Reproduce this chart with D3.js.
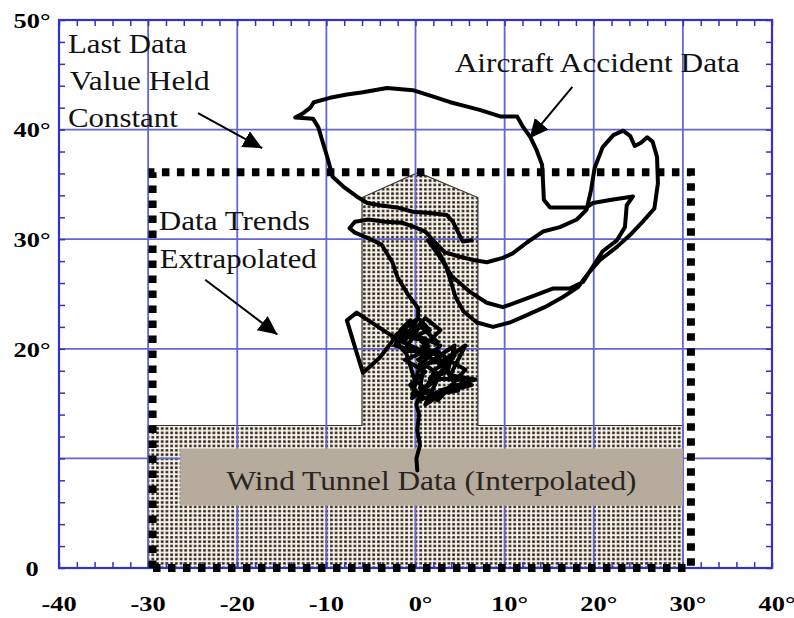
<!DOCTYPE html>
<html>
<head>
<meta charset="utf-8">
<script src="https://cdn.jsdelivr.net/npm/d3@7"></script>
<style>
  body { margin: 0; background: #fff; }
  svg { display: block; }
</style>
</head>
<body>
<script>
// tick values and labels
const xTicks = [-40, -30, -20, -10, 0, 10, 20, 30, 40];
const xTickLabels = ["-40", "-30", "-20", "-10", "0°", "10°", "20°", "30°", "40°"];
const yTicks = [0, 10, 20, 30, 40, 50];
const yTickLabels = ["0", "", "20°", "30°", "40°", "50°"];
const xMinor = d3.range(-40, 41, 2);
const yMinor = d3.range(0, 51, 2);

// wind tunnel coverage (T shape), x = sideslip, y = angle of attack
const tunnelRegion = [[-30, 0], [30, 0], [30, 13], [7, 13], [7, 33.8], [0.3, 36.1],
  [-6, 33.8], [-6, 13], [-30, 13]];
// extrapolation limit (dotted box)
const extrapBoundary = [[-29.5, 0], [-29.5, 36.1], [30.9, 36.1], [30.9, 0]];
// label box corners
const tunnelLabelBox = [[-26.4, 10.9], [30, 5.7]];

// aircraft accident flight path
const accidentTrack = [
  [0.2, 8.9], [0.1, 10.0], [0.5, 11.2], [0.2, 12.6], [0.4, 14.0], [0.1, 14.9], [0.5, 15.8],
  [-0.6, 16.7], [1.1, 17.9], [-1.2, 19.0], [1.6, 19.9], [-0.1, 21.3], [2.8, 20.3], [0.5, 18.5],
  [3.3, 19.0], [5.6, 20.3], [3.9, 17.6], [6.7, 17.2], [2.8, 16.2], [0.5, 15.3], [2.2, 18.1],
  [4.4, 19.4], [1.6, 16.7], [-0.4, 15.5], [1.1, 20.8], [-1.7, 21.7], [-0.6, 22.6], [-2.3, 20.3],
  [0.3, 19.7], [2.8, 21.7], [1.1, 22.8], [-1.2, 20.8], [-2.6, 21.0],
  [0.3, 22.8], [1.6, 21.7], [-0.6, 21.0], [2.5, 20.6], [0.5, 22.1], [-1.2, 19.9], [3.0, 19.4],
  [1.1, 18.5], [4.4, 20.3], [3.6, 17.9], [1.6, 17.3], [5.0, 17.2], [6.3, 16.7], [3.3, 16.1],
  [1.1, 14.9], [2.7, 17.6], [0.3, 19.0], [2.2, 19.9], [4.1, 18.8], [5.6, 18.1], [2.5, 15.3],
  [0.5, 16.4], [1.4, 20.3], [-0.4, 21.5], [-2.0, 20.8], [0.5, 19.9], [3.4, 18.2], [4.8, 16.2],
  [1.9, 15.8], [-0.1, 17.2], [-1.0, 19.5], [-2.4, 20.9],
  [-4.0, 19.2], [-5.9, 17.8], [-6.7, 19.9], [-7.7, 22.6], [-6.6, 23.3], [-2.3, 21.0],
  [-0.6, 21.7], [0.3, 22.8],
  [0.3, 23.7], [-0.8, 24.9], [-2.0, 26.5], [-2.6, 27.9], [-3.8, 29.5], [-5.3, 30.1],
  [-6.8, 30.6], [-7.4, 31.0], [-6.8, 31.6], [-5.3, 31.8], [-3.4, 31.6], [-1.5, 31.5],
  [-0.1, 31.1], [1.1, 30.7], [2.2, 29.7], [3.3, 28.8], [5.0, 28.4], [6.5, 28.1], [8.0, 27.9],
  [9.8, 28.3], [10.9, 28.7], [12.5, 29.7], [14.3, 30.7], [16.2, 31.1], [18.1, 31.8],
  [19.2, 32.7], [19.7, 34.5], [20.1, 36.5], [21.0, 38.4], [22.2, 39.5], [23.3, 39.9],
  [24.1, 39.4], [24.6, 38.5], [25.3, 38.8], [26.0, 39.3], [26.6, 38.9], [27.1, 37.5],
  [27.2, 35.1], [26.8, 32.8], [25.5, 31.6], [24.1, 30.4], [22.6, 29.3], [20.7, 28.1],
  [19.5, 27.0], [18.2, 25.6], [16.5, 24.7], [14.5, 23.8], [12.3, 23.0], [10.6, 22.4],
  [8.7, 22.0], [6.9, 22.4], [5.4, 23.4], [4.5, 24.7], [3.9, 26.3], [3.4, 27.6], [2.5, 29.0],
  [1.4, 29.9], [2.8, 28.3], [4.1, 26.6], [6.1, 25.2], [8.0, 24.2], [9.8, 23.8], [12.5, 24.6],
  [15.4, 25.5], [17.3, 25.5], [18.8, 26.1], [19.9, 27.5], [21.0, 28.9], [22.6, 29.9],
  [23.5, 31.1], [23.7, 33.1], [24.4, 33.9], [22.0, 33.6], [19.9, 33.3], [19.2, 32.9],
  [15.1, 32.9], [14.4, 33.6], [14.3, 35.4], [14.2, 36.8], [13.6, 38.1], [12.9, 39.3],
  [12.1, 40.2], [11.4, 41.2], [9.5, 41.2], [7.2, 41.8], [5.8, 42.1], [3.9, 42.5], [2.0, 43.0],
  [-0.3, 43.6], [-3.2, 43.8], [-5.9, 43.4], [-7.7, 43.2], [-9.6, 42.9], [-11.4, 42.5],
  [-11.8, 42.0], [-12.6, 41.5], [-13.5, 41.1], [-11.5, 41.0], [-10.9, 40.2], [-10.5, 39.1],
  [-9.9, 37.5], [-9.3, 35.7], [-8.1, 34.8], [-6.6, 33.9], [-5.4, 33.3], [-4.0, 33.1],
  [-2.1, 32.9], [-0.3, 32.5], [1.6, 32.4], [3.5, 32.2], [4.2, 31.6], [4.8, 30.6], [5.3, 29.8],
  [6.3, 29.9]
];

// annotation text, anchored at the start of the baseline
const noteText = ["Last Data", "Value Held", "Constant", "Data Trends", "Extrapolated",
  "Aircraft Accident Data", "Wind Tunnel Data (Interpolated)"];
const noteAt = [[-39, 47.0], [-38.8, 43.6], [-39, 40.2], [-28.8, 30.8], [-28.7, 27.4],
  [4.4, 45.3], [-21.2, 7.1]];
// arrows: [from, to]
const arrows = [
  [[-24.4, 41.5], [-17.2, 38.3]],
  [[-23.6, 26.3], [-15.5, 21.3]],
  [[17.6, 43.9], [12.8, 39.2]]
];

const W = 794, H = 618;
const noteWidth = { "Last Data": 119, "Value Held": 140, "Constant": 110, "Data Trends": 151,
  "Extrapolated": 157, "Aircraft Accident Data": 285, "Wind Tunnel Data (Interpolated)": 410 };
const serif = "'Liberation Serif', 'Times New Roman', serif";
const frameColor = "#3232c8", gridColor = "#6464d4";

const x = d3.scaleLinear().domain([-40, 40]).range([59, 772]);
const y = d3.scaleLinear().domain([0, 50]).range([568, 20]);
const line = d3.line().x(d => x(d[0])).y(d => y(d[1]));

const svg = d3.select("body").append("svg")
    .attr("width", W)
    .attr("height", H);

const defs = svg.append("defs");
// dot screen used for the wind tunnel area
const pat = defs.append("pattern")
    .attr("id", "dots")
    .attr("width", 4.7).attr("height", 4.35)
    .attr("patternUnits", "userSpaceOnUse");
pat.append("rect").attr("width", 4.7).attr("height", 4.35).attr("fill", "#fbfaf7");
pat.append("rect").attr("x", 0.9).attr("y", 0.8).attr("width", 3.1).attr("height", 2.9)
    .attr("fill", "#a8977c");
pat.append("rect").attr("x", 1.3).attr("y", 1.2).attr("width", 2.2).attr("height", 2.1)
    .attr("fill", "#1d1710");

defs.append("marker")
    .attr("id", "head")
    .attr("viewBox", "0 -10 20 20")
    .attr("refX", 19).attr("refY", 0)
    .attr("markerWidth", 20).attr("markerHeight", 20)
    .attr("markerUnits", "userSpaceOnUse")
    .attr("orient", "auto")
  .append("path")
    .attr("d", "M0,-9L19,0L0,9Z")
    .attr("fill", "#000");

// wind tunnel region
svg.append("path")
    .attr("d", line(tunnelRegion) + "Z")
    .attr("fill", "url(#dots)")
    .attr("stroke", "#333")
    .attr("stroke-width", 1.2);

// grid
svg.append("g").selectAll("line").data(xTicks).join("line")
    .attr("x1", d => x(d)).attr("x2", d => x(d))
    .attr("y1", y(0)).attr("y2", y(50))
    .attr("stroke", gridColor).attr("stroke-width", 1.8);
svg.append("g").selectAll("line").data(yTicks).join("line")
    .attr("x1", x(-40)).attr("x2", x(40))
    .attr("y1", d => y(d)).attr("y2", d => y(d))
    .attr("stroke", gridColor).attr("stroke-width", 1.8);

// minor ticks, pointing inward on all four sides
function minor(axis, tr) {
  const g = svg.append("g").attr("transform", tr).call(axis.tickSize(-6).tickFormat(""));
  g.select(".domain").remove();
  g.selectAll("line").attr("stroke", frameColor).attr("stroke-width", 1.5);
}
minor(d3.axisBottom(x).tickValues(xMinor), `translate(0,${y(0)})`);
minor(d3.axisTop(x).tickValues(xMinor), `translate(0,${y(50)})`);
minor(d3.axisLeft(y).tickValues(yMinor), `translate(${x(-40)},0)`);
minor(d3.axisRight(y).tickValues(yMinor), `translate(${x(40)},0)`);

// frame
svg.append("rect")
    .attr("x", x(-40)).attr("y", y(50))
    .attr("width", x(40) - x(-40)).attr("height", y(0) - y(50))
    .attr("fill", "none").attr("stroke", frameColor).attr("stroke-width", 2.2);

// label box
svg.append("rect")
    .attr("x", x(tunnelLabelBox[0][0])).attr("y", y(tunnelLabelBox[0][1]))
    .attr("width", x(tunnelLabelBox[1][0]) - x(tunnelLabelBox[0][0]))
    .attr("height", y(tunnelLabelBox[1][1]) - y(tunnelLabelBox[0][1]))
    .attr("fill", "#b6ab9d");

// extrapolation boundary
svg.append("path")
    .attr("d", line(extrapBoundary) + "Z")
    .attr("fill", "none")
    .attr("stroke", "#000")
    .attr("stroke-width", 8)
    .attr("stroke-dasharray", "7.5,7.5");

// accident trajectory
svg.append("path")
    .attr("d", line(accidentTrack))
    .attr("fill", "none")
    .attr("stroke", "#000")
    .attr("stroke-width", 4)
    .attr("stroke-linejoin", "round")
    .attr("stroke-linecap", "round");

// arrows
svg.append("g").selectAll("line").data(arrows).join("line")
    .attr("x1", d => x(d[0][0])).attr("y1", d => y(d[0][1]))
    .attr("x2", d => x(d[1][0])).attr("y2", d => y(d[1][1]))
    .attr("stroke", "#000").attr("stroke-width", 2)
    .attr("marker-end", "url(#head)");

// notes
svg.append("g").selectAll("text").data(noteText).join("text")
    .attr("x", (d, i) => x(noteAt[i][0]))
    .attr("y", (d, i) => y(noteAt[i][1]))
    .attr("textLength", d => noteWidth[d])
    .attr("lengthAdjust", "spacingAndGlyphs")
    .style("font-family", serif)
    .style("font-size", "27px")
    .attr("fill", (d, i) => i === 6 ? "#2a2520" : "#111")
    .text(d => d);

// tick labels
svg.append("g").selectAll("text").data(xTicks).join("text")
    .attr("transform", (d, i) => `translate(${x(d) + (xTickLabels[i].endsWith("°") ? 5 : 0)},${y(0) + 43}) scale(1.2,1)`)
    .attr("text-anchor", "middle")
    .style("font-family", serif)
    .style("font-weight", "bold")
    .style("font-size", "22px")
    .text((d, i) => xTickLabels[i]);

svg.append("g").selectAll("text").data(yTicks).join("text")
    .attr("transform", d => `translate(${x(-40) - 27},${y(d)}) scale(1.2,1)`)
    .attr("text-anchor", "middle")
    .attr("dy", "0.35em")
    .style("font-family", serif)
    .style("font-weight", "bold")
    .style("font-size", "22px")
    .text((d, i) => yTickLabels[i]);
</script>
</body>
</html>
